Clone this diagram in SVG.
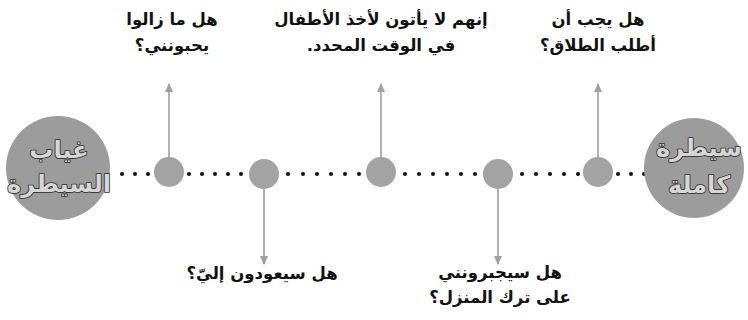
<svg xmlns="http://www.w3.org/2000/svg" width="748" height="320" viewBox="0 0 748 320">
<style>
.q{font-family:"DejaVu Sans","Noto Sans",sans-serif;font-weight:bold;font-size:16.5px;fill:#111;text-anchor:middle;direction:rtl}
.big{font-family:"DejaVu Sans","Noto Sans",sans-serif;font-weight:bold;font-size:24px;fill:#d6d6d6;stroke:#2a2a2a;stroke-width:1.6;paint-order:stroke;stroke-linejoin:round;text-anchor:middle;direction:rtl}
.bc{fill:#9c9c9c}
.sc{fill:#a3a3a3}
.ar{stroke:#a0a0a0;stroke-width:1.6;fill:none;marker-end:url(#ah)}
.dot{fill:#111}
</style>
<defs>
<marker id="ah" markerWidth="10" markerHeight="10" refX="8" refY="5" orient="auto" markerUnits="userSpaceOnUse">
<path d="M0,1 L9,5 L0,9 Z" fill="#a0a0a0"/>
</marker>
</defs>
<g id="connectors">
<g id="dots">
<circle class="dot" cx="122" cy="174" r="2"/><circle class="dot" cx="135" cy="174" r="2"/><circle class="dot" cx="148" cy="174" r="2"/>
<circle class="dot" cx="189" cy="174" r="2"/><circle class="dot" cx="202" cy="174" r="2"/><circle class="dot" cx="215" cy="174" r="2"/><circle class="dot" cx="228" cy="174" r="2"/><circle class="dot" cx="241" cy="174" r="2"/>
<circle class="dot" cx="288" cy="174" r="2"/><circle class="dot" cx="303" cy="174" r="2"/><circle class="dot" cx="317" cy="174" r="2"/><circle class="dot" cx="331" cy="174" r="2"/><circle class="dot" cx="345" cy="174" r="2"/><circle class="dot" cx="359" cy="174" r="2"/>
<circle class="dot" cx="405" cy="174" r="2"/><circle class="dot" cx="419" cy="174" r="2"/><circle class="dot" cx="433" cy="174" r="2"/><circle class="dot" cx="447" cy="174" r="2"/><circle class="dot" cx="461" cy="174" r="2"/><circle class="dot" cx="475" cy="174" r="2"/>
<circle class="dot" cx="522" cy="174" r="2"/><circle class="dot" cx="536" cy="174" r="2"/><circle class="dot" cx="550" cy="174" r="2"/><circle class="dot" cx="564" cy="174" r="2"/><circle class="dot" cx="578" cy="174" r="2"/>
<circle class="dot" cx="618" cy="174" r="2"/><circle class="dot" cx="631" cy="174" r="2"/><circle class="dot" cx="644" cy="174" r="2"/>
</g>
<path class="ar" d="M169,158 L169,84"/>
<path class="ar" d="M381,157 L381,84"/>
<path class="ar" d="M598,157 L598,84"/>
<path class="ar" d="M264,189 L264,264"/>
<path class="ar" d="M498,189 L498,264"/>
</g>
<g id="node-absence">
<circle class="bc" cx="58" cy="168" r="52"/>
<text class="big" x="59" y="158">غياب</text>
<text class="big" x="59" y="192">السيطرة</text>
</g>
<g id="node-full">
<circle class="bc" cx="694" cy="168" r="50"/>
<text class="big" x="699" y="156">سيطرة</text>
<text class="big" x="699" y="193">كاملة</text>
</g>
<g id="node-q1">
<circle class="sc" cx="169" cy="172" r="15"/>
<text class="q" x="172" y="25">هل ما زالوا</text>
<text class="q" x="172" y="51">يحبونني؟</text>
</g>
<g id="node-q2">
<circle class="sc" cx="264" cy="174" r="15"/>
<text class="q" x="262" y="279">هل سيعودون إليّ؟</text>
</g>
<g id="node-q3">
<circle class="sc" cx="381" cy="172" r="15"/>
<text class="q" x="381" y="25">إنهم لا يأتون لأخذ الأطفال</text>
<text class="q" x="381" y="51">في الوقت المحدد.</text>
</g>
<g id="node-q4">
<circle class="sc" cx="498" cy="174" r="15"/>
<text class="q" x="500" y="278">هل سيجبرونني</text>
<text class="q" x="500" y="303">على ترك المنزل؟</text>
</g>
<g id="node-q5">
<circle class="sc" cx="598" cy="172" r="15"/>
<text class="q" x="598" y="25">هل يجب أن</text>
<text class="q" x="598" y="51">أطلب الطلاق؟</text>
</g>
</svg>
